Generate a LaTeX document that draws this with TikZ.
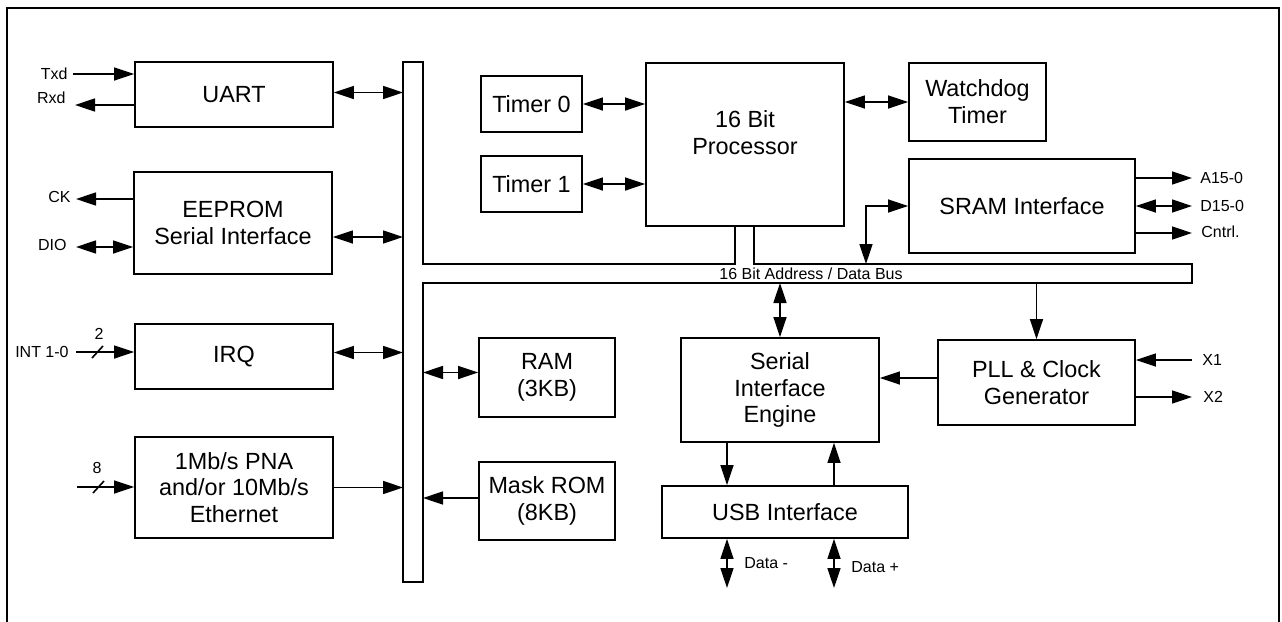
\documentclass[tikz,border=0pt]{standalone}
\usepackage{fontspec}
\setmainfont{Liberation Sans}
\usetikzlibrary{arrows.meta}

\begin{document}
\begin{tikzpicture}[
    x = 0.5pt,
    y = -0.5pt,
    >={Triangle[length=10pt, width=6.5pt]},
    block/.style = {draw, line width=0.9pt, align=center, inner sep=0pt,
              font=\fontsize{11.7}{13.4}\selectfont},
    link/.style = {line width=0.8pt},
    pin/.style = {font=\fontsize{8}{9.6}\selectfont, inner sep=2.5pt},
    ]

\useasboundingbox (0,0) rectangle (1282,622);
\draw [line width=0.9pt] (7,622) -- (7,8) -- (1279,8) -- (1279,622);

\node[block, minimum width=99pt, minimum height=32.5pt] (uart) at (234,94.5){UART};
\node[block, minimum width=99pt, minimum height=51pt] (eeprom) at (233,223){EEPROM\\Serial Interface};
\node[block, minimum width=99pt, minimum height=32.5pt] (irq) at (234,356.5){IRQ};
\node[block, minimum width=99pt, minimum height=50.5pt] (ether) at (234,487.5){1Mb/s PNA\\and/or 10Mb/s\\Ethernet};
\node[block, minimum width=50.5pt, minimum height=28pt] (timer_0) at (531.5,104){Timer 0};
\node[block, minimum width=50.5pt, minimum height=28pt] (timer_1) at (531.5,184){Timer 1};
\node[block, minimum width=99pt, minimum height=81.5pt] (cpu) at (745,144.5){};
\node[align=center, font=\fontsize{11.7}{13.4}\selectfont] (cpu_text) at (745,133){16 Bit\\Processor};
\node[block, minimum width=68.5pt, minimum height=39pt] (watchdog) at (977.5,102){Watchdog\\Timer};
\node[block, minimum width=113pt, minimum height=47pt] (sram) at (1022,206){SRAM Interface};
\node[block, minimum width=68pt, minimum height=39.5pt] (ram) at (547,377.5){RAM\\(3KB)};
\node[block, minimum width=68pt, minimum height=39pt] (rom) at (547,501){Mask ROM\\(8KB)};
\node[block, minimum width=99pt, minimum height=52pt] (sie) at (780,390){Serial\\Interface\\Engine};
\node[block, minimum width=98.5pt, minimum height=42.5pt] (pll) at (1036.5,382.5){PLL \& Clock\\Generator};
\node[block, minimum width=123pt, minimum height=26pt] (usb) at (785,512){USB Interface};

\coordinate (bus_nw) at (403,62);
\coordinate (bus_ne) at (423,62);
\coordinate (bus_top) at (423,264);
\coordinate (bus_bot) at (423,283);
\coordinate (sram_tap) at (866,264);
\draw [line width=0.9pt] (754,226) -- (754,264) -- (1192,264) -- (1192,283) -- (bus_bot)
    -- (423,582) -- (403,582) -- (bus_nw) -- (bus_ne) -- (bus_top) -- (735,264) -- (735,226);
\node[pin] (bus_label) at (811,273.5){16 Bit Address / Data Bus};

\draw [link, <->] ([yshift=1pt]uart.east) -- ([yshift=1pt]uart.east -| bus_nw);
\draw [link, <->] ([yshift=-7pt]eeprom.east) -- ([yshift=-7pt]eeprom.east -| bus_nw);
\draw [link, <->] ([yshift=2pt]irq.east) -- ([yshift=2pt]irq.east -| bus_nw);
\draw [link, ->] (ether.east) -- (ether.east -| bus_nw);
\draw [link, <->] ([yshift=2.5pt]ram.west) -- ([yshift=2.5pt]ram.west -| bus_ne);
\draw [link, ->] ([yshift=1.5pt]rom.west) -- ([yshift=1.5pt]rom.west -| bus_ne);
\draw [link, <->] (timer_0.east) -- (timer_0.east -| cpu.west);
\draw [link, <->] (timer_1.east) -- (timer_1.east -| cpu.west);
\draw [link, <->] (watchdog.west) -- (watchdog.west -| cpu.east);
\draw [link, <->] (sram_tap) |- (sram.west);
\draw [link, <->] (sie.north) -- (sie.north |- bus_bot);
\draw [link, ->] (pll.north |- bus_bot) -- (pll.north);
\draw [link, ->] ([yshift=2.25pt]pll.west) -- ([yshift=2.25pt]pll.west -| sie.east);
\draw [link, ->] ([xshift=-26.5pt]sie.south) -- ([xshift=-26.5pt]sie.south |- usb.north);
\draw [link, ->] ([xshift=27pt]sie.south |- usb.north) -- ([xshift=27pt]sie.south);

\coordinate (pin_txd) at (73,74);
\coordinate (pin_rxd) at (75,105);
\coordinate (pin_ck) at (76,199);
\coordinate (pin_dio) at (76,247);
\coordinate (pin_int) at (76,352);
\coordinate (pin_net) at (77,487);
\coordinate (pin_a) at (1192,178);
\coordinate (pin_d) at (1192,206);
\coordinate (pin_c) at (1192,233);
\coordinate (pin_x1) at (1192,360);
\coordinate (pin_x2) at (1192,397);
\coordinate (pin_dm) at (727,588);
\coordinate (pin_dp) at (834,588);

\node[pin, anchor=east] (lbl_txd) at (pin_txd){Txd};
\node[pin, anchor=east] (lbl_rxd) at ([xshift=-2pt, yshift=3.5pt]pin_rxd){Rxd};
\node[pin, anchor=east] (lbl_ck) at ([yshift=1pt]pin_ck){CK};
\node[pin, anchor=east] (lbl_dio) at ([xshift=-2pt, yshift=1pt]pin_dio){DIO};
\node[pin, anchor=east] (lbl_int) at ([xshift=-1pt]pin_int){INT 1-0};
\node[pin] (lbl_int_w) at (99,334){2};
\node[pin] (lbl_net_w) at (97,468){8};
\node[pin, anchor=west] (lbl_a) at ([xshift=1.5pt]pin_a){A15-0};
\node[pin, anchor=west] (lbl_d) at ([xshift=1.5pt]pin_d){D15-0};
\node[pin, anchor=west] (lbl_c) at ([xshift=2pt, yshift=0.5pt]pin_c){Cntrl.};
\node[pin, anchor=west] (lbl_x1) at ([xshift=2.5pt]pin_x1){X1};
\node[pin, anchor=west] (lbl_x2) at ([xshift=3pt]pin_x2){X2};
\node[pin, anchor=west] (lbl_dm) at (739,563){Data -};
\node[pin, anchor=west] (lbl_dp) at (846,567){Data +};

\draw [link, ->] (pin_txd) -- (pin_txd -| uart.west);
\draw [link, <-] (pin_rxd) -- (pin_rxd -| uart.west);
\draw [link, <-] (pin_ck) -- (pin_ck -| eeprom.west);
\draw [link, <->] (pin_dio) -- (pin_dio -| eeprom.west);
\draw [link, ->] (pin_int) -- (pin_int -| irq.west);
\draw [link, ->] (pin_net) -- (pin_net -| ether.west);
\draw [link] (92,358) -- (103,346);
\draw [link] (93,493) -- (104,481);
\draw [link, <-] (pin_a) -- (pin_a -| sram.east);
\draw [link, <->] (pin_d) -- (pin_d -| sram.east);
\draw [link, <-] (pin_c) -- (pin_c -| sram.east);
\draw [link, ->] (pin_x1) -- (pin_x1 -| pll.east);
\draw [link, <-] (pin_x2) -- (pin_x2 -| pll.east);
\draw [link, <->] (pin_dm) -- (pin_dm |- usb.south);
\draw [link, <->] (pin_dp) -- (pin_dp |- usb.south);

\end{tikzpicture}
\end{document}
